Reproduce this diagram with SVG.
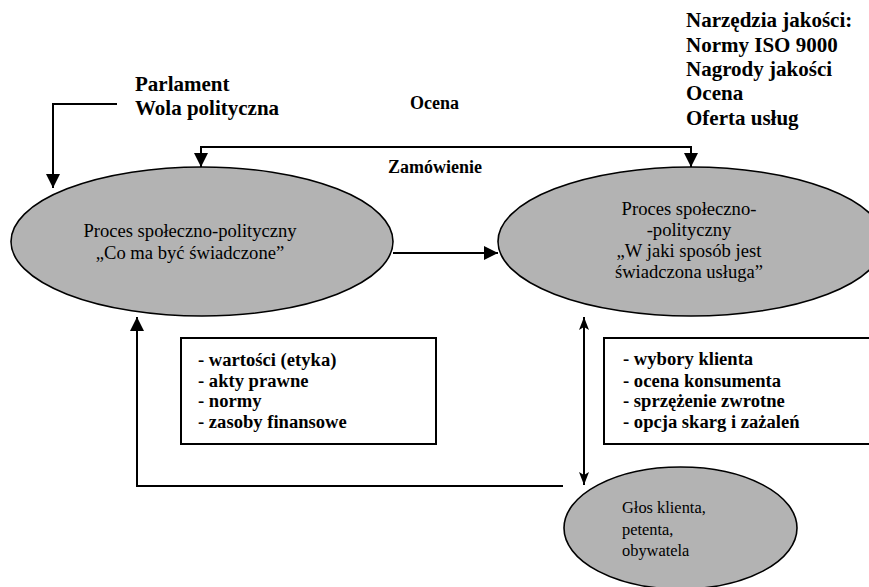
<svg xmlns="http://www.w3.org/2000/svg" width="869" height="587" viewBox="0 0 869 587">
<style>
.bg{fill:#ffffff}
.ell{fill:#b3b3b3;stroke:#000;stroke-width:1.6}
.box{fill:#ffffff;stroke:#000;stroke-width:2}
.line{fill:none;stroke:#000;stroke-width:2}
text{font-family:'Liberation Serif','Times New Roman',Times,serif;fill:#000}
.tb{font-weight:bold}
.e{font-size:18.6px}
.b{font-size:18.6px;font-weight:bold}
</style>
<defs>
<marker id="arr" markerUnits="userSpaceOnUse" markerWidth="14" markerHeight="14" refX="14" refY="7" orient="auto">
<path d="M0,0 L14,7 L0,14 z" fill="#000"/>
</marker>
<marker id="arr2" markerUnits="userSpaceOnUse" markerWidth="13" markerHeight="10" refX="13" refY="5" orient="auto-start-reverse">
<path d="M0,0 L13,5 L0,10 L3,5 z" fill="#000"/>
</marker>
</defs>
<rect class="bg" x="0" y="0" width="869" height="587"/>

<g id="node-left">
<ellipse class="ell" cx="202" cy="241.5" rx="191" ry="74.5"/>
<text class="e" text-anchor="middle" x="190" y="237">Proces społeczno-polityczny</text>
<text class="e" text-anchor="middle" x="190" y="259">„Co ma być świadczone”</text>
</g>

<g id="node-right">
<ellipse class="ell" cx="691" cy="241.5" rx="193" ry="74.5"/>
<text class="e" text-anchor="middle" x="689" y="215">Proces społeczno-</text>
<text class="e" text-anchor="middle" x="689" y="236">-polityczny</text>
<text class="e" text-anchor="middle" x="689" y="257">„W jaki sposób jest</text>
<text class="e" text-anchor="middle" x="689" y="278">świadczona usługa”</text>
</g>

<g id="node-glos">
<ellipse class="ell" cx="680.5" cy="528" rx="116.5" ry="61"/>
<text font-size="16.4" x="622" y="513">Głos klienta,</text>
<text font-size="16.4" x="622" y="535">petenta,</text>
<text font-size="16.4" x="622" y="556">obywatela</text>
</g>

<g id="box-left">
<rect class="box" x="181" y="338" width="255" height="106"/>
<text class="b" x="198" y="366">- wartości (etyka)</text>
<text class="b" x="198" y="387">- akty prawne</text>
<text class="b" x="198" y="407">- normy</text>
<text class="b" x="198" y="428">- zasoby finansowe</text>
</g>

<g id="box-right">
<rect class="box" x="604" y="338" width="280" height="106"/>
<text class="b" x="623" y="365">- wybory klienta</text>
<text class="b" x="623" y="387">- ocena konsumenta</text>
<text class="b" x="623" y="407">- sprzężenie zwrotne</text>
<text class="b" x="623" y="428">- opcja skarg i zażaleń</text>
</g>

<g id="label-parlament">
<text class="tb" font-size="21" x="135" y="91">Parlament</text>
<text class="tb" font-size="21" x="135" y="115">Wola polityczna</text>
</g>

<g id="label-narzedzia">
<text class="tb" font-size="21" x="686" y="27">Narzędzia jakości:</text>
<text class="tb" font-size="21" x="686" y="51.5">Normy ISO 9000</text>
<text class="tb" font-size="21" x="686" y="76">Nagrody jakości</text>
<text class="tb" font-size="21" x="686" y="100">Ocena</text>
<text class="tb" font-size="21" x="686" y="124.5">Oferta usług</text>
</g>

<g id="label-ocena">
<text class="tb" font-size="18" x="410" y="109">Ocena</text>
</g>
<g id="label-zamowienie">
<text class="tb" font-size="18" x="388" y="173">Zamówienie</text>
</g>

<g id="connectors">
<path class="line" d="M117,104 H53 V188" marker-end="url(#arr)"/>
<path class="line" d="M446,147 H201 V167" marker-end="url(#arr)"/>
<path class="line" d="M446,147 H691 V167" marker-end="url(#arr)"/>
<path class="line" d="M393,253 H498" marker-end="url(#arr)"/>
<path class="line" d="M563,486 H137 V317" marker-end="url(#arr)"/>
<path class="line" d="M584,317 V485" marker-start="url(#arr2)" marker-end="url(#arr2)"/>
</g>
</svg>
